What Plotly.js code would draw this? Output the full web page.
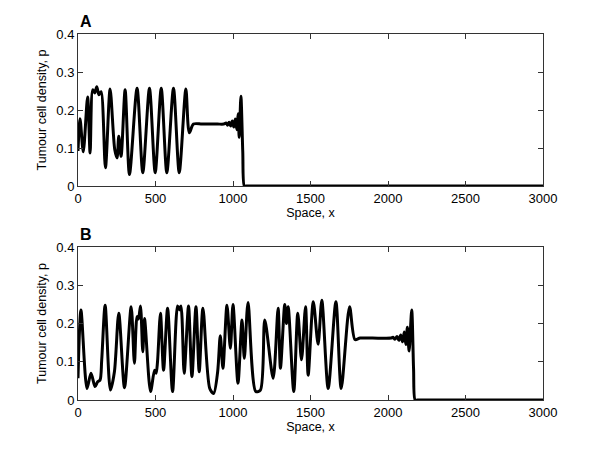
<!DOCTYPE html>
<html>
<head>
<meta charset="utf-8">
<script src="https://cdn.plot.ly/plotly-3.0.1.min.js"></script>
<style>html,body{margin:0;padding:0;background:#fff;}#chart{width:600px;height:451px;}</style>
</head>
<body>
<div id="chart"></div>
<script>
// Panel A: space x and tumour cell density p (peaks / troughs)
const xA = [0, 13, 34, 62, 78, 95, 108, 121, 135, 149, 177, 207, 237, 252, 263, 278, 304, 332, 381, 418, 461, 498, 537, 573, 616, 653, 696, 718, 745, 800, 900, 940, 955, 965, 975, 985, 995, 1005, 1015, 1025, 1033, 1040, 1051, 1063, 1073, 1085, 1200, 3000];
const pA = [0.092, 0.177, 0.09, 0.234, 0.087, 0.253, 0.245, 0.261, 0.24, 0.248, 0.048, 0.255, 0.096, 0.074, 0.131, 0.078, 0.253, 0.03, 0.257, 0.035, 0.257, 0.035, 0.257, 0.035, 0.257, 0.035, 0.255, 0.14, 0.163, 0.163, 0.163, 0.163, 0.166, 0.160, 0.168, 0.158, 0.171, 0.155, 0.176, 0.148, 0.19, 0.128, 0.236, 0.09, 0.0, 0.0, 0.0, 0.0];

// Panel B
const xB = [0, 19, 58, 84, 110, 127, 142, 153, 175, 209, 235, 263, 300, 343, 364, 381, 390, 403, 418, 429, 468, 494, 504, 513, 532, 552, 578, 610, 642, 653, 664, 685, 713, 735, 761, 782, 806, 850, 875, 901, 918, 935, 961, 983, 1000, 1032, 1058, 1073, 1097, 1147, 1177, 1205, 1259, 1291, 1306, 1334, 1345, 1356, 1392, 1418, 1442, 1468, 1485, 1518, 1549, 1573, 1614, 1664, 1698, 1752, 1787, 1820, 1900, 2020, 2032, 2045, 2058, 2070, 2082, 2094, 2105, 2115, 2125, 2136, 2153, 2165, 2175, 2190, 2300, 3000];
const pB = [0.057, 0.235, 0.03, 0.07, 0.035, 0.048, 0.052, 0.105, 0.248, 0.026, 0.074, 0.227, 0.032, 0.244, 0.096, 0.218, 0.212, 0.246, 0.126, 0.213, 0.022, 0.078, 0.07, 0.1, 0.227, 0.078, 0.24, 0.022, 0.246, 0.236, 0.246, 0.07, 0.246, 0.061, 0.244, 0.074, 0.24, 0.03, 0.017, 0.074, 0.168, 0.083, 0.248, 0.135, 0.25, 0.044, 0.209, 0.109, 0.255, 0.022, 0.026, 0.209, 0.057, 0.24, 0.083, 0.25, 0.2, 0.244, 0.022, 0.227, 0.105, 0.244, 0.065, 0.257, 0.146, 0.261, 0.03, 0.257, 0.03, 0.244, 0.158, 0.162, 0.162, 0.162, 0.164, 0.159, 0.166, 0.156, 0.17, 0.152, 0.178, 0.145, 0.19, 0.128, 0.235, 0.08, 0.0, 0.0, 0.0, 0.0];

const xTicks = [0, 500, 1000, 1500, 2000, 2500, 3000];
const yTicks = [0, 0.1, 0.2, 0.3, 0.4];
const xTitle = 'Space, x';
const yTitle = 'Tumour cell density, p';
const panelLabels = ['A', 'B'];

const lineStyle = {color: '#000', width: 3, shape: 'spline', smoothing: 0.8};
const traces = [
  {x: xA, y: pA, xaxis: 'x', yaxis: 'y', mode: 'lines', line: lineStyle, hoverinfo: 'skip'},
  {x: xB, y: pB, xaxis: 'x2', yaxis: 'y2', mode: 'lines', line: lineStyle, hoverinfo: 'skip'}
];

const font = {family: 'Liberation Sans, Arial, sans-serif', size: 13, color: '#000'};
const tfont = {family: 'Liberation Sans, Arial, sans-serif', size: 12.5, color: '#000'};
function xax(anchor) {
  return {
    anchor: anchor, domain: [0, 1], range: [0, 3000], tickmode: 'array', tickvals: xTicks,
    ticks: 'inside', ticklen: 5, tickwidth: 1, tickcolor: '#333', showline: true, linecolor: '#333', linewidth: 1,
    mirror: 'ticks', showgrid: false, zeroline: false, tickfont: font,
    title: {text: xTitle, font: tfont, standoff: 2}, automargin: false
  };
}
function yax(anchor, dom) {
  return {
    anchor: anchor, domain: dom, range: [0, 0.4], tickmode: 'array', tickvals: yTicks,
    ticks: 'inside', ticklen: 5, tickwidth: 1, tickcolor: '#333', showline: true, linecolor: '#333', linewidth: 1,
    mirror: 'ticks', showgrid: false, zeroline: false, tickfont: font,
    title: {text: yTitle, font: tfont, standoff: 6}, automargin: false
  };
}

const layout = {
  width: 600, height: 451,
  margin: {l: 78, r: 57, t: 34, b: 51},
  paper_bgcolor: '#fff', plot_bgcolor: '#fff',
  showlegend: false,
  font: font,
  xaxis: xax('y'),
  yaxis: yax('x', [0.5847, 1]),
  xaxis2: xax('y2'),
  yaxis2: yax('x2', [0, 0.418]),
  annotations: [
    {text: '<b>' + panelLabels[0] + '</b>', xref: 'paper', yref: 'paper', x: 0.0, y: 1.033, xanchor: 'left', yanchor: 'middle', showarrow: false, font: {family: 'Liberation Sans, Arial, sans-serif', size: 16, color: '#000'}},
    {text: '<b>' + panelLabels[1] + '</b>', xref: 'paper', yref: 'paper', x: 0.0, y: 0.451, xanchor: 'left', yanchor: 'middle', showarrow: false, font: {family: 'Liberation Sans, Arial, sans-serif', size: 16, color: '#000'}}
  ]
};

Plotly.newPlot('chart', traces, layout, {staticPlot: true, displayModeBar: false});
</script>
</body>
</html>
